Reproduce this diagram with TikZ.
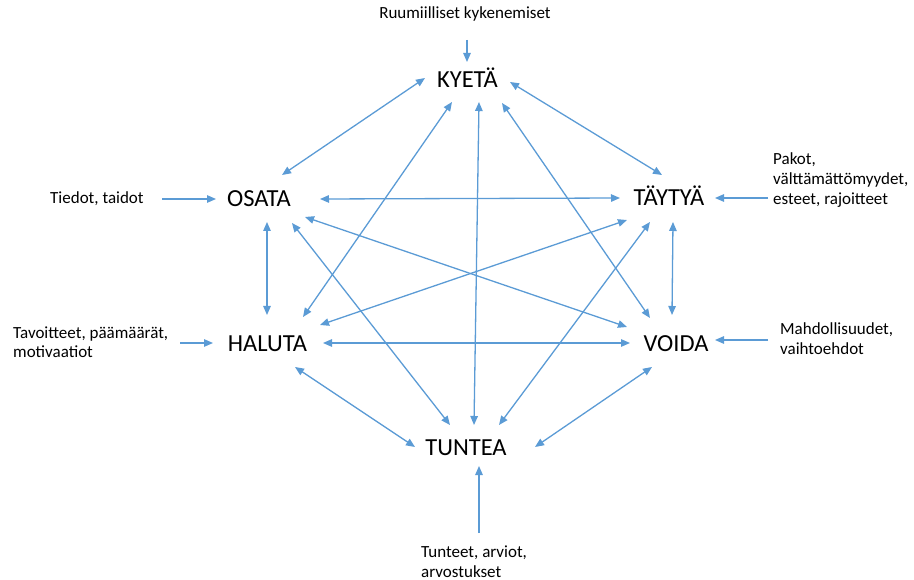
\documentclass[tikz,border=0pt]{standalone}
\usepackage{fontspec}
\setmainfont{Carlito}
\usetikzlibrary{arrows.meta,calc}
\definecolor{linkblue}{HTML}{5B9BD5}
\tikzset{
  verb/.style={inner sep=0pt, font=\fontsize{24.5}{29}\selectfont, text=black},
  note/.style={inner sep=0pt, font=\fontsize{17}{20}\selectfont, text=black},
  link/.style={draw=linkblue, line width=1.3pt, -{Triangle[length=9pt,width=7.5pt]}},
  twoway/.style={draw=linkblue, line width=1.3pt, {Triangle[length=9pt,width=7.5pt]}-{Triangle[length=9pt,width=7.5pt]}},
}
\newcommand{\stack}[1]{\begin{tabular}[t]{@{}l@{}}#1\end{tabular}}
\begin{document}
\begin{tikzpicture}[x=1pt,y=-1pt]
\useasboundingbox (0,0) rectangle (914,580);

% the six verbs
\node[verb, anchor=base] (KY) at (467.5,88) {KYETÄ};
\node[verb, anchor=base] (OS) at (259,207) {OSATA};
\node[verb, anchor=base] (TA) at (669,206) {TÄYTYÄ};
\node[verb, anchor=base] (HA) at (267.5,352) {HALUTA};
\node[verb, anchor=base] (VO) at (676,352) {VOIDA};
\node[verb, anchor=base] (TU) at (466,455) {TUNTEA};

% the outside sources
\node[note, anchor=base] (RK) at (465,19) {Ruumiilliset kykenemiset};
\node[note, anchor=base west] (TI) at (50,204) {Tiedot, taidot};
\node[note, anchor=base west] (PA) at (773,165) {\stack{Pakot,\\välttämättömyydet,\\esteet, rajoitteet}};
\node[note, anchor=base west] (TV) at (13,338) {\stack{Tavoitteet, päämäärät,\\motivaatiot}};
\node[note, anchor=base west] (MA) at (780,335) {\stack{Mahdollisuudet,\\vaihtoehdot}};
\node[note, anchor=base west] (TT) at (421,557) {\stack{Tunteet, arviot,\\arvostukset}};

% sources feeding the verbs
\draw[link] ($(RK.base)+(2,21)$) -- ($(KY.base)+(-0.5,-26)$);
\draw[link] ($(TI.base west)+(112,-5)$) -- ($(OS.base)+(-43,-8)$);
\draw[link] ($(PA.base west)+(-5,33)$) -- ($(TA.base)+(46,-8)$);
\draw[link] ($(TV.base west)+(167,5)$) -- ($(HA.base)+(-54.5,-9)$);
\draw[link] ($(MA.base west)+(-12,5)$) -- ($(VO.base)+(39,-12)$);
\draw[link] ($(TT.base west)+(58,-24)$) -- ($(TU.base)+(13,11)$);

% mutual links between the verbs
\draw[twoway] ($(KY.base)+(-42.5,-10)$) -- ($(OS.base)+(23,-32)$);
\draw[twoway] ($(KY.base)+(42.5,-6)$) -- ($(TA.base)+(-7,-31)$);
\draw[twoway] ($(KY.base)+(-15.5,14)$) -- ($(HA.base)+(35.5,-35)$);
\draw[twoway] ($(KY.base)+(11.5,14)$) -- ($(TU.base)+(8,-30)$);
\draw[twoway] ($(KY.base)+(34.5,15)$) -- ($(VO.base)+(-26,-34)$);
\draw[twoway] ($(OS.base)+(61,-8)$) -- ($(TA.base)+(-49,-8)$);
\draw[twoway] ($(OS.base)+(8,15)$) -- ($(HA.base)+(-0.5,-37)$);
\draw[twoway] ($(OS.base)+(46,10)$) -- ($(VO.base)+(-49,-25)$);
\draw[twoway] ($(OS.base)+(33,16)$) -- ($(TU.base)+(-16,-30)$);
\draw[twoway] ($(TA.base)+(-42,14)$) -- ($(HA.base)+(52.5,-27)$);
\draw[twoway] ($(TA.base)+(4,16)$) -- ($(VO.base)+(-4,-37)$);
\draw[twoway] ($(TA.base)+(-19,16)$) -- ($(TU.base)+(33,-30)$);
\draw[twoway] ($(HA.base)+(55.5,-9)$) -- ($(VO.base)+(-46,-9)$);
\draw[twoway] ($(HA.base)+(27.5,15)$) -- ($(TU.base)+(-51,-8)$);
\draw[twoway] ($(VO.base)+(-24,15)$) -- ($(TU.base)+(69,-8)$);
\end{tikzpicture}
\end{document}
